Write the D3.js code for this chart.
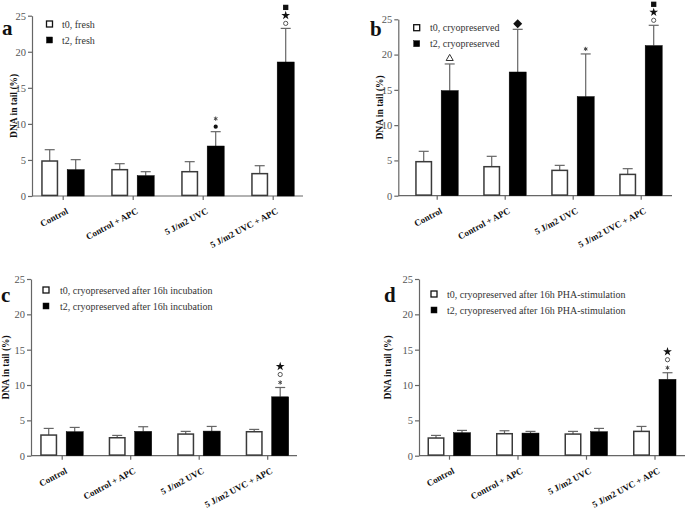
<!DOCTYPE html>
<html><head><meta charset="utf-8">
<script src="https://cdn.jsdelivr.net/npm/d3@7"></script>
<style>body{margin:0;background:#fff}svg{display:block}</style>
</head><body>
<svg id="chart" width="685" height="511"></svg>
<script>
// ---------- data ----------
const categories = ["Control", "Control + APC", "5 J/m2 UVC", "5 J/m2 UVC + APC"];
const yTicks = [0, 5, 10, 15, 20, 25];

const aLegend = ["t0, fresh", "t2, fresh"];
const aT0 = [4.85, 3.65, 3.37, 3.10];
const aT0Sd = [1.57, 0.83, 1.39, 1.10];
const aT2 = [3.65, 2.82, 6.93, 18.58];
const aT2Sd = [1.39, 0.55, 1.99, 4.66];
const aMarks = [[], [], ["dot", "asterisk"], ["circle", "star", "square"]];

const bLegend = ["t0, cryopreserved", "t2, cryopreserved"];
const bT0 = [4.82, 4.11, 3.59, 3.02];
const bT0Sd = [1.47, 1.47, 0.71, 0.81];
const bT2 = [14.89, 17.53, 14.04, 21.27];
const bT2Sd = [3.78, 6.05, 6.05, 2.88];
const bMarks = [["triangle"], ["diamond"], ["asterisk"], ["circle", "star", "square"]];

const cLegend = ["t0, cryopreserved after 16h incubation", "t2, cryopreserved after 16h incubation"];
const cT0 = [2.92, 2.54, 3.06, 3.39];
const cT0Sd = [0.94, 0.33, 0.38, 0.33];
const cT2 = [3.39, 3.44, 3.48, 8.33];
const cT2Sd = [0.61, 0.66, 0.66, 1.32];
const cMarks = [[], [], [], ["asterisk", "circle", "star"]];

const dLegend = ["t0, cryopreserved after 16h PHA-stimulation", "t2, cryopreserved after 16h PHA-stimulation"];
const dT0 = [2.50, 3.11, 3.06, 3.44];
const dT0Sd = [0.37, 0.42, 0.38, 0.70];
const dT2 = [3.25, 3.20, 3.39, 10.80];
const dT2Sd = [0.33, 0.24, 0.47, 0.94];
const dMarks = [[], [], [], ["asterisk", "circle", "star"]];

const series = ["t0", "t2"];
const yLabel = "DNA in tail (%)";

// ---------- layout ----------
const panels = [
  {letter: "a", legend: aLegend, t0: aT0, t0sd: aT0Sd, t2: aT2, t2sd: aT2Sd, marks: aMarks,
   ax0: 32, ax1: 303, y0: 196, yTop: 15.7, c0: 62.7, step: 70,
   lx: 2, ly: 35, legX: 49.5, legY: 24, legTx: 62, ylx: 14},
  {letter: "b", legend: bLegend, t0: bT0, t0sd: bT0Sd, t2: bT2, t2sd: bT2Sd, marks: bMarks,
   ax0: 398.3, ax1: 672, y0: 195.7, yTop: 19.3, c0: 436.7, step: 68,
   lx: 370, ly: 36, legX: 416.7, legY: 27.7, legTx: 430, ylx: 380},
  {letter: "c", legend: cLegend, t0: cT0, t0sd: cT0Sd, t2: cT2, t2sd: cT2Sd, marks: cMarks,
   ax0: 31, ax1: 297, y0: 455.7, yTop: 279, c0: 61.7, step: 68.5,
   lx: 1, ly: 302, legX: 46, legY: 290, legTx: 60, ylx: 6},
  {letter: "d", legend: dLegend, t0: dT0, t0sd: dT0Sd, t2: dT2, t2sd: dT2Sd, marks: dMarks,
   ax0: 419, ax1: 685, y0: 455.7, yTop: 279, c0: 449, step: 68.5,
   lx: 384, ly: 302, legX: 434, legY: 294, legTx: 447, ylx: 388}
];

const serif = "'Liberation Serif','Times New Roman','DejaVu Serif',serif";
const svg = d3.select("#chart");

const symbolDefs = {
  asterisk: {type: d3.symbolAsterisk, size: 12, fill: "none", stroke: "#444", rot: 0},
  dot: {type: d3.symbolCircle, size: 14, fill: "#111", stroke: "none", rot: 0},
  circle: {type: d3.symbolCircle, size: 14, fill: "#fff", stroke: "#555", rot: 0},
  star: {type: d3.symbolStar, size: 24, fill: "#111", stroke: "none", rot: 0},
  square: {type: d3.symbolSquare, size: 28, fill: "#111", stroke: "none", rot: 0},
  triangle: {type: d3.symbolTriangle2, size: 36, fill: "none", stroke: "#333", rot: 0},
  diamond: {type: d3.symbolSquare, size: 40, fill: "#111", stroke: "none", rot: 45}
};

panels.forEach(p => {
  const g = svg.append("g");
  const y = d3.scaleLinear().domain([0, 25]).range([p.y0, p.yTop]);
  const x = d3.scalePoint().domain(categories).range([p.c0, p.c0 + 3 * p.step]);
  const xs = d3.scaleBand().domain(series).range([-21.5, 21.5]).paddingInner(0.346);
  const bw = xs.bandwidth();

  // y axis
  const yAxis = g.append("g").attr("transform", `translate(${p.ax0},0)`)
    .call(d3.axisLeft(y).tickValues(yTicks).tickSize(4).tickSizeOuter(0).tickPadding(2));
  yAxis.select(".domain").attr("stroke", "#666").attr("stroke-width", 1.2);
  yAxis.selectAll(".tick line").attr("stroke", "#666").attr("stroke-width", 1.2);
  yAxis.selectAll(".tick text").attr("fill", "#555").style("font-family", serif).style("font-size", "10.5px");

  // x axis line
  g.append("line").attr("x1", p.ax0).attr("x2", p.ax1).attr("y1", p.y0).attr("y2", p.y0)
    .attr("stroke", "#666").attr("stroke-width", 1.2);
  const xAxis = g.append("g").attr("transform", `translate(0,${p.y0})`)
    .call(d3.axisBottom(x).tickSize(4).tickSizeOuter(0).tickFormat(""));
  xAxis.select(".domain").remove();
  xAxis.selectAll(".tick line").attr("stroke", "#666").attr("stroke-width", 1.2);

  // x labels
  g.selectAll(".xl").data(categories).join("text")
    .attr("transform", d => `translate(${x(d) + 6},${p.y0 + 17}) rotate(-28)`)
    .attr("text-anchor", "end")
    .style("font-family", serif).style("font-size", "9px").style("font-weight", "bold")
    .attr("fill", "#111").text(d => d);

  // bars
  const rows = [];
  categories.forEach((c, i) => {
    rows.push({c, s: "t0", v: p.t0[i], sd: p.t0sd[i], marks: []});
    rows.push({c, s: "t2", v: p.t2[i], sd: p.t2sd[i], marks: p.marks[i]});
  });
  const cx = d => x(d.c) + xs(d.s) + bw / 2;

  // error bars
  rows.forEach(d => {
    const xc = cx(d);
    g.append("line").attr("x1", xc).attr("x2", xc).attr("y1", y(d.v)).attr("y2", y(d.v + d.sd))
      .attr("stroke", "#666").attr("stroke-width", 1.2);
    g.append("line").attr("x1", xc - 5).attr("x2", xc + 5).attr("y1", y(d.v + d.sd)).attr("y2", y(d.v + d.sd))
      .attr("stroke", "#666").attr("stroke-width", 1.2);
  });

  g.selectAll(".bar").data(rows).join("rect")
    .attr("x", d => x(d.c) + xs(d.s) + (d.s === "t0" ? 0.75 : 0))
    .attr("width", d => d.s === "t0" ? bw - 1.5 : bw)
    .attr("y", d => y(d.v))
    .attr("height", d => y(0) - y(d.v) - (d.s === "t0" ? 0.6 : 0))
    .attr("fill", d => d.s === "t0" ? "#fff" : "#000")
    .attr("stroke", d => d.s === "t0" ? "#3a3a3a" : "#000")
    .attr("stroke-width", d => d.s === "t0" ? 1.5 : 0.5);

  // annotation marks
  rows.forEach(d => {
    const top = y(d.v + d.sd);
    d.marks.forEach((m, k) => {
      const def = symbolDefs[m];
      const big = (m === "triangle" || m === "diamond");
      const yy = top - (big ? 5.5 : 5) - k * 8;
      g.append("path").attr("d", d3.symbol().type(def.type).size(def.size)())
        .attr("transform", `translate(${cx(d)},${yy}) rotate(${def.rot})`)
        .attr("fill", def.fill).attr("stroke", def.stroke).attr("stroke-width", 1);
    });
  });

  // y label
  g.append("text").attr("transform", `translate(${p.ylx},${(p.y0 + p.yTop) / 2}) rotate(-90)`)
    .attr("text-anchor", "middle").attr("dy", "0.35em")
    .style("font-family", serif).style("font-size", "9.5px").style("font-weight", "bold")
    .attr("fill", "#111").text(yLabel);

  // panel letter
  g.append("text").attr("x", p.lx).attr("y", p.ly)
    .style("font-family", serif).style("font-size", "21px").style("font-weight", "bold")
    .attr("fill", "#111").text(p.letter);

  // legend
  p.legend.forEach((t, k) => {
    const yy = p.legY + k * 16;
    g.append("rect").attr("x", p.legX - 3).attr("y", yy - 3).attr("width", 6).attr("height", 6)
      .attr("fill", k === 0 ? "#fff" : "#000").attr("stroke", "#111").attr("stroke-width", k === 0 ? 1.3 : 0.5);
    g.append("text").attr("x", p.legTx).attr("y", yy).attr("dy", "0.35em")
      .style("font-family", serif).style("font-size", "10px").attr("fill", "#333").text(t);
  });
});
</script>
</body></html>
